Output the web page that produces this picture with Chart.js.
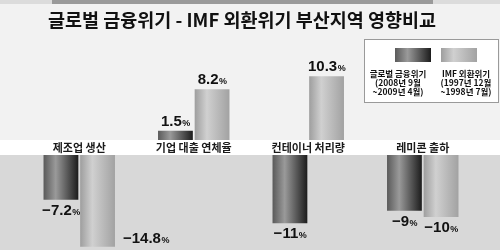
<!DOCTYPE html>
<html>
<head>
<meta charset="utf-8">
<script src="https://cdn.jsdelivr.net/npm/chart.js@4.4.0/dist/chart.umd.min.js"></script>
<style>
  html, body { margin: 0; padding: 0; background: #f2f2f2; }
  #chart-area { display: block; }
</style>
</head>
<body>
<canvas id="chart-area" width="500" height="250"></canvas>
<script>
var chartTitle = '글로벌 금융위기 - IMF 외환위기 부산지역 영향비교';
var categories = ['제조업 생산', '기업 대출 연체율', '컨테이너 처리량', '레미콘 출하'];
var globalCrisis = [-7.2, 1.5, -11, -9];
var imfCrisis = [-14.8, 8.2, 10.3, -10];
var seriesLabels = [
    ['글로벌 금융위기', '(2008년 9월', '~2009년 4월)'],
    ['IMF 외환위기', '(1997년 12월', '~1998년 7월)']
];

var barShades = {
    dark: ['#5a5a5a', '#9a9a9a', '#1c1c1c'],
    light: ['#9e9e9e', '#d0d0d0', '#a2a2a2']
};
var numFont = '"Liberation Sans Narrow", "Liberation Sans", Arial, sans-serif';
var krFont = '"Noto Sans CJK KR", "Noto Sans", sans-serif';

function onlyPositive(arr) {
    return arr.map(function(v) { return v > 0 ? v : null; });
}
function onlyNegative(arr) {
    return arr.map(function(v) { return v < 0 ? v : null; });
}

function makeGradient(ctx, left, width, shade) {
    var stops = barShades[shade];
    var g = ctx.createLinearGradient(left, 0, left + width, 0);
    g.addColorStop(0, stops[0]);
    g.addColorStop(0.35, stops[1]);
    g.addColorStop(1, stops[2]);
    return g;
}

function formatValue(v) {
    return String(v).replace('-', '\u2212');
}

var backdrop = {
    id: 'backdrop',
    beforeDraw: function(chart) {
        var ctx = chart.ctx;
        var up = chart.scales.yUp.getPixelForValue(0);
        var down = chart.scales.yDown.getPixelForValue(0);
        ctx.save();
        ctx.fillStyle = '#f2f2f2';
        ctx.fillRect(0, 0, chart.width, chart.height);
        ctx.fillStyle = '#ffffff';
        ctx.fillRect(0, up, chart.width, down - up);
        ctx.fillStyle = '#d8d8d8';
        ctx.fillRect(0, down, chart.width, chart.height - down);
        // top strip
        ctx.fillStyle = '#dcdcdc';
        ctx.fillRect(0, 0, chart.width, 4);
        ctx.fillStyle = '#9a9a9a';
        ctx.fillRect(52, 0, 381, 4);
        // title
        ctx.fillStyle = '#111';
        ctx.font = 'bold 18.5px ' + krFont;
        ctx.textAlign = 'center';
        ctx.textBaseline = 'middle';
        ctx.fillText(chartTitle, 242, 20);
        // category labels in the white band
        ctx.font = 'bold 11px ' + krFont;
        ctx.fillStyle = '#1a1a1a';
        categories.forEach(function(c, i) {
            ctx.fillText(c, chart.scales.x.getPixelForValue(i), (up + down) / 2 + 0.5);
        });
        ctx.restore();
    }
};

var shading = {
    id: 'shading',
    beforeDatasetsDraw: function(chart) {
        chart.data.datasets.forEach(function(ds, di) {
            chart.getDatasetMeta(di).data.forEach(function(el) {
                if (!isFinite(el.x) || !isFinite(el.width)) return;
                var g = makeGradient(chart.ctx, el.x - el.width / 2, el.width, ds.shade);
                el.options = Object.assign({}, el.options, { backgroundColor: g });
            });
        });
    }
};

function drawValue(ctx, text, x, y, align) {
    ctx.font = 'bold 15px ' + numFont;
    var w1 = ctx.measureText(text).width;
    ctx.font = 'bold 9px ' + numFont;
    var w2 = ctx.measureText('%').width;
    var left = align === 'left' ? x : x - (w1 + w2) / 2;
    ctx.textAlign = 'left';
    ctx.textBaseline = 'alphabetic';
    ctx.font = 'bold 15px ' + numFont;
    ctx.fillText(text, left, y + 5);
    ctx.font = 'bold 9px ' + numFont;
    ctx.fillText('%', left + w1 + 0.5, y + 5);
}

var valueLabels = {
    id: 'valueLabels',
    afterDatasetsDraw: function(chart) {
        var ctx = chart.ctx;
        var bottom = chart.chartArea.bottom;
        ctx.save();
        ctx.fillStyle = '#111';
        chart.data.datasets.forEach(function(ds, di) {
            chart.getDatasetMeta(di).data.forEach(function(el, i) {
                var v = ds.data[i];
                if (v === null) return;
                var text = formatValue(v);
                if (v > 0) {
                    drawValue(ctx, text, el.x, el.y - 10, 'center');
                } else if (el.y + 18 > bottom) {
                    drawValue(ctx, text, el.x + el.width / 2 + 8, el.y - 9, 'left');
                } else {
                    drawValue(ctx, text, el.x, el.y + 10, 'center');
                }
            });
        });
        ctx.restore();
    }
};

var boxLegend = {
    id: 'boxLegend',
    afterDraw: function(chart) {
        var ctx = chart.ctx;
        ctx.save();
        ctx.fillStyle = '#ffffff';
        ctx.fillRect(364, 39, 135, 64);
        ctx.strokeStyle = '#9a9a9a';
        ctx.lineWidth = 1;
        ctx.strokeRect(364.5, 39.5, 134, 63);
        var swatchX = [395, 441];
        var textX = [398, 466];
        var shades = ['dark', 'light'];
        ctx.textAlign = 'center';
        ctx.textBaseline = 'middle';
        seriesLabels.forEach(function(lines, k) {
            ctx.fillStyle = makeGradient(ctx, swatchX[k], 36, shades[k]);
            ctx.fillRect(swatchX[k], 48, 36, 14);
            ctx.fillStyle = '#111';
            ctx.font = 'bold 8.5px ' + krFont;
            lines.forEach(function(line, j) {
                ctx.fillText(line, textX[k], 73.5 + j * 9.3);
            });
        });
        ctx.restore();
    }
};

var config = {
    type: 'bar',
    data: {
        labels: categories,
        datasets: [{
            label: seriesLabels[0][0],
            data: onlyPositive(globalCrisis),
            yAxisID: 'yUp',
            stack: 'global',
            shade: 'dark',
            backgroundColor: '#555'
        }, {
            label: seriesLabels[0][0],
            data: onlyNegative(globalCrisis),
            yAxisID: 'yDown',
            stack: 'global',
            shade: 'dark',
            backgroundColor: '#555'
        }, {
            label: seriesLabels[1][0],
            data: onlyPositive(imfCrisis),
            yAxisID: 'yUp',
            stack: 'imf',
            shade: 'light',
            backgroundColor: '#bbb'
        }, {
            label: seriesLabels[1][0],
            data: onlyNegative(imfCrisis),
            yAxisID: 'yDown',
            stack: 'imf',
            shade: 'light',
            backgroundColor: '#bbb'
        }]
    },
    options: {
        responsive: false,
        animation: false,
        categoryPercentage: 0.64,
        barPercentage: 0.95,
        layout: {
            padding: { left: 22, right: 20, top: 40, bottom: 0 }
        },
        plugins: {
            legend: { display: false },
            tooltip: { enabled: false }
        },
        scales: {
            x: { display: false },
            yUp: { display: false, min: -17.74, max: 16.13 },
            yDown: { display: false, min: -15.32, max: 18.55 }
        }
    },
    plugins: [backdrop, shading, valueLabels, boxLegend]
};

window.onload = function() {
    var ctx = document.getElementById('chart-area').getContext('2d');
    window.barChart = new Chart(ctx, config);
};
</script>
</body>
</html>
